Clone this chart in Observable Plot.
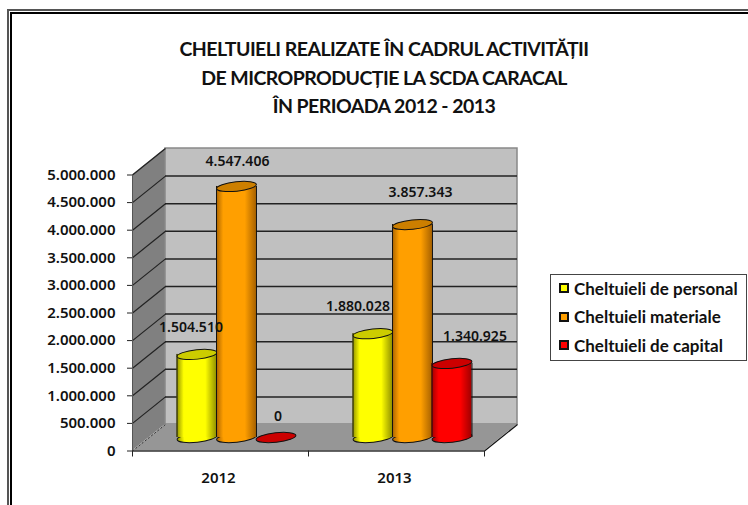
<!DOCTYPE html>
<html lang="ro">
<head>
<meta charset="utf-8">
<script src="https://cdn.jsdelivr.net/npm/d3@7"></script>
<script src="https://cdn.jsdelivr.net/npm/@observablehq/plot@0.6"></script>
<style>
html,body{margin:0;padding:0;background:#fff;width:748px;height:505px;overflow:hidden}
.fr{position:absolute;box-sizing:border-box;border-style:solid;border-width:2px 0 0 2px}
#frameA{left:7px;top:9px;width:741px;height:496px;border-color:#555}
#frameB{left:10px;top:12px;width:738px;height:493px;border-color:#000}
#title{position:absolute;left:0;top:35px;width:768px;text-align:center;font:bold 19.5px/28.5px Lato,sans-serif;letter-spacing:-0.55px;color:#111}
#legend{position:absolute;left:550px;top:274px;width:197px;height:87px;box-sizing:border-box;border:1px solid #444;background:#fff;font:bold 17px Lato,sans-serif;color:#111}
.row{position:absolute;left:8px;display:flex;align-items:center;height:20px;white-space:nowrap}
.sw{display:inline-block;width:10px;height:10px;box-sizing:border-box;border:2px solid #111;margin-right:5px}
#chart{position:absolute;left:0;top:0}
svg{overflow:visible}
</style>
</head>
<body>
<div id="frameA" class="fr"></div>
<div id="frameB" class="fr"></div>
<div id="chart"></div>
<div id="title">CHELTUIELI REALIZATE ÎN CADRUL ACTIVITĂȚII<br>DE MICROPRODUCȚIE LA SCDA CARACAL<br>ÎN PERIOADA 2012 - 2013</div>
<div id="legend"></div>
<script>
const years = ["2012", "2013"];
const seriesNames = ["Cheltuieli de personal", "Cheltuieli materiale", "Cheltuieli de capital"];
const personal = [1504510, 1880028];
const materiale = [4547406, 3857343];
const capital = [0, 1340925];
const yTicks = [0, 500000, 1000000, 1500000, 2000000, 2500000, 3000000, 3500000, 4000000, 4500000, 5000000];

// oblique "3D" box depth, in data units
const depthX = 0.1875, depthY = 480000;
const spacing = 0.2244, halfW = 0.1135;
const looks = [
  {id: "gy", edge: "#8f8f00", mid: "#ffff00", top: "#cccc00"},
  {id: "go", edge: "#a86200", mid: "#ff9f00", top: "#cc7f00"},
  {id: "gr", edge: "#a00000", mid: "#ff0000", top: "#cc0000"}
];
const seriesValues = [personal, materiale, capital];
const rows = seriesValues.flatMap((vals, s) => vals.map((v, i) => ({s, i, v, cx: i + 0.5 + (s - 1) * spacing})));
const labelNudge = [
  {s: 0, i: 0, dx: -6, dy: -40}, {s: 1, i: 0, dx: 1, dy: -38}, {s: 2, i: 0, dx: 2, dy: -34},
  {s: 0, i: 1, dx: -15, dy: -41}, {s: 1, i: 1, dx: 8, dy: -46}, {s: 2, i: 1, dx: 23, dy: -40}
];
const fmt = d3.formatLocale({decimal: ",", thousands: ".", grouping: [3], currency: ["", ""]}).format(",d");

// elliptical cross-section of a cylinder
const ellipse = {
  draw(c, size) {
    const r = Math.sqrt(size / Math.PI), b = r * 0.235, k = 0.5523;
    c.moveTo(-r, 0);
    c.bezierCurveTo(-r, -b * k, -r * k, -b, 0, -b);
    c.bezierCurveTo(r * k, -b, r, -b * k, r, 0);
    c.bezierCurveTo(r, b * k, r * k, b, 0, b);
    c.bezierCurveTo(-r * k, b, -r, b * k, -r, 0);
    c.closePath();
  }
};

const gradients = () => {
  const defs = d3.create("svg:defs");
  for (const l of looks) {
    const g = defs.append("linearGradient").attr("id", l.id).attr("x1", 0).attr("x2", 1).attr("y1", 0).attr("y2", 0);
    [[0, l.edge], [0.18, l.mid], [0.72, l.mid], [1, l.edge]].forEach(([o, c]) =>
      g.append("stop").attr("offset", o).attr("stop-color", c));
  }
  return defs.node();
};

const cylOpts = {dx: 16, dy: -13.5};
const cylinders = looks.flatMap((l, s) => {
  const d = rows.filter(r => r.s === s);
  const tall = d.filter(r => r.v > 0);
  return [
    Plot.dot(tall, {x: "cx", y: () => 0, r: 20, symbol: ellipse, rotate: -6, fill: `url(#${l.id})`, stroke: "#111", strokeWidth: 1, ...cylOpts}),
    Plot.rect(tall, {x1: r => r.cx - halfW, x2: r => r.cx + halfW, y1: () => 0, y2: "v", fill: `url(#${l.id})`, ...cylOpts}),
    Plot.ruleX(tall, {x: r => r.cx - halfW, y1: () => 0, y2: "v", stroke: "#111", strokeWidth: 1, ...cylOpts}),
    Plot.ruleX(tall, {x: r => r.cx + halfW, y1: () => 0, y2: "v", stroke: "#111", strokeWidth: 1, ...cylOpts}),
    Plot.dot(d, {x: "cx", y: "v", r: 20, symbol: ellipse, rotate: -6, fill: l.top, stroke: "#111", strokeWidth: 1, ...cylOpts})
  ];
});

const labelFont = {fontFamily: "'Noto Sans', sans-serif", fontWeight: 600};
const labels = labelNudge.map(n => {
  const r = rows.find(r => r.s === n.s && r.i === n.i);
  return Plot.text([r], {x: "cx", y: "v", text: d => fmt(d.v), dx: 16 + n.dx, dy: n.dy,
    fontSize: 14, fill: "#111", ...labelFont});
});

const chart = Plot.plot({
  width: 748, height: 505,
  marginLeft: 132, marginRight: 264, marginTop: 174.5, marginBottom: 54.5,
  style: {fontFamily: "'Noto Sans', sans-serif", background: "transparent", overflow: "visible"},
  x: {domain: [0, 2], axis: null},
  y: {domain: [0, 5000000], axis: null},
  marks: [
    gradients,
    // side wall
    Plot.areaY([{x: 0, a: 0, b: 5000000}, {x: depthX, a: depthY, b: 5000000 + depthY}],
      {x: "x", y1: "a", y2: "b", fill: "#808080"}),
    // back wall
    Plot.rect([{}], {x1: () => depthX, x2: () => 2 + depthX, y1: () => depthY, y2: () => 5000000 + depthY,
      fill: "#c0c0c0", stroke: "#888", strokeWidth: 1.5}),
    // floor
    Plot.areaY([{x: 0, a: 0, b: 0}, {x: depthX, a: 0, b: depthY}, {x: 2, a: 0, b: depthY}, {x: 2 + depthX, a: depthY, b: depthY}],
      {x: "x", y1: "a", y2: "b", fill: "#969696"}),
    // gridlines
    Plot.ruleY(yTicks.filter(v => v > 0 && v < 5000000), {y: v => v + depthY, x1: () => depthX, x2: () => 2 + depthX, stroke: "#222", strokeWidth: 1.5}),
    Plot.link(yTicks.filter(v => v > 0), {x1: () => 0, x2: () => depthX, y1: v => v, y2: v => v + depthY, stroke: "#222", strokeWidth: 1.2}),
    Plot.link([0], {x1: () => 0, x2: () => depthX, y1: v => v, y2: v => v + depthY, stroke: "#333", strokeWidth: 1, strokeDasharray: "2,2"}),
    Plot.link([0], {x1: () => 2, x2: () => 2 + depthX, y1: v => v, y2: v => v + depthY, stroke: "#111", strokeWidth: 1.2}),
    // axes
    Plot.ruleX([0], {y1: () => 0, y2: () => 5000000, stroke: "#555", strokeWidth: 1}),
    Plot.ruleY([0], {x1: () => 0, x2: () => 2, stroke: "#333", strokeWidth: 1.5}),
    Plot.axisY({ticks: yTicks, tickFormat: fmt, tickSize: 5, tickPadding: 12, fontSize: 15, label: null, stroke: "#222", fill: "#111", ...labelFont}),
    Plot.axisX({ticks: [0, 1, 2], tickFormat: () => "", tickSize: 6, label: null, stroke: "#222"}),
    Plot.axisX({ticks: [0.5, 1.5], tickFormat: d => years[Math.floor(d)], tickSize: 0, tickPadding: 21, fontSize: 15, label: null, fill: "#111", dx: -2, ...labelFont}),
    ...cylinders,
    ...labels
  ]
});
document.getElementById("chart").append(chart);

const legend = d3.select("#legend");
seriesNames.forEach((name, i) => {
  const row = legend.append("div").attr("class", "row").style("top", `${3 + i * 28.5}px`);
  row.append("span").attr("class", "sw").style("background", looks[i].mid);
  row.append("span").text(name);
});
</script>
</body>
</html>
